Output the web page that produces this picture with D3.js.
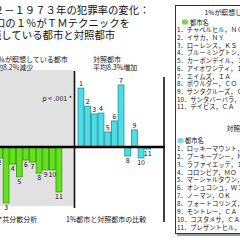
<!DOCTYPE html>
<html><head><meta charset="utf-8">
<script src="https://cdn.jsdelivr.net/npm/d3@7/dist/d3.min.js"></script>
<style>
body{margin:0;background:#fff;overflow:hidden}
svg{display:block}
text{font-family:"Noto Sans CJK JP","Noto Sans CJK SC",sans-serif;fill:#111}
</style>
</head><body>
<svg id="c" width="240" height="240"></svg>
<script>
// ---- data ----
const cityIds = [1,2,3,4,5,6,7,8,9,10,11];
// crime-rate change 1972-1973 (%), cities where 1% practise TM
const tmCityChange = [-1.0,-3.8,-19.3,-5.9,-10.3,-4.5,-5.2,-9.0,-7.9,-7.9,-15.5];
// control cities
const controlCityChange = [20.3,14.1,11.4,11.7,5.2,9.0,21.4,-3.1,5.9,-3.8,-0.7];
const titleLines = ["１９７２－１９７３年の犯罪率の変化：","人口の１％がＴＭテクニックを","実践している都市と対照都市"];
const tmSubtitle = ["１％が瞑想している都市","平均8.2%減少"];
const ctlSubtitle = ["対照都市","平均8.3%増加"];
const pNote = "ρ < .001 *";
const footNotes = ["*共分散分析","1%都市と対照都市の比較"];
const tmLegendTitle = "1%が瞑想している都市";
const ctlLegendTitle = "対照都市";
const legendHeader = "都市名";
const tmCityNames = ["チャペルヒル，ＮＣ","イサカ，ＮＹ","ローレンス，ＫＳ","ブルーミングトン，ＩＮ","カーボンデイル，ＩＬ","アイオワシティ，ＩＡ","エイムズ，ＩＡ","ボウルダー，ＣＯ","サンタクルーズ，ＣＡ","サンタバーバラ，ＣＡ","デイビス，ＣＡ"];
const controlCityNames = ["ロッキーマウント，ＮＣ","プーキープシー，ＮＹ","ラファイエッテ，ＩＮ","コロンビア，ＭＯ","マーシャルタウン，ＩＡ","オシュコシュ，ＷＩ","ノーマン，ＯＫ","フォートコリンズ，ＣＯ","モントレー，ＣＡ","コスタメサ，ＣＡ","プレザントヒル，ＣＡ"];

const GREEN="#62e41c", GREEN_S="#3b9412", CYAN="#4ddde6", CYAN_S="#23909c";

const svg = d3.select("#c");

// title
svg.append("g").selectAll("text").data(titleLines).join("text")
  .attr("x",(d,i)=>[-37.5,-15.5,-19.5][i]).attr("y",(d,i)=>14+i*12.5)
  .attr("font-size",10.4).text(d=>d);

// left panel background
svg.append("rect").attr("x",-2).attr("y",70).attr("width",76).attr("height",136).attr("fill","#e1e1e1");

const y = d3.scaleLinear().domain([-20,20]).range([205,89]);
const xTM = d3.scaleBand().domain(cityIds).range([-10,61.8]).paddingInner(0.12).paddingOuter(0);
const xCtl = d3.scaleBand().domain(cityIds).range([78,150.7]).paddingInner(0.12).paddingOuter(0);

// subtitles
svg.append("g").selectAll("text").data(tmSubtitle).join("text")
  .attr("x",(d,i)=>[-9,-11][i]).attr("y",(d,i)=>61.5+i*8.7).attr("font-size",7).text(d=>d);
svg.append("g").selectAll("text").data(ctlSubtitle).join("text")
  .attr("x",93).attr("y",(d,i)=>61.5+i*8.7).attr("font-size",7).text(d=>d);
svg.append("text").attr("x",72).attr("y",100.5).attr("text-anchor","end").attr("font-size",7).text(pNote);

function bars(data, x, fill, stroke){
  const g = svg.append("g");
  g.selectAll("rect").data(data).join("rect")
    .attr("x",(d,i)=>x(cityIds[i])).attr("width",x.bandwidth())
    .attr("y",d=>y(Math.max(0,d))).attr("height",d=>Math.abs(y(d)-y(0)))
    .attr("fill",fill).attr("stroke",stroke).attr("stroke-width",0.8);
  g.selectAll("text").data(data).join("text")
    .attr("x",(d,i)=>x(cityIds[i])+x.bandwidth()/2)
    .attr("y",d=>d>=0? y(d)-2 : y(d)+7)
    .attr("text-anchor","middle").attr("font-size",7).text((d,i)=>cityIds[i]);
}
bars(tmCityChange, xTM, GREEN, GREEN_S);
bars(controlCityChange, xCtl, CYAN, CYAN_S);

// axis + separators
svg.append("line").attr("x1",-2).attr("x2",165).attr("y1",y(0)).attr("y2",y(0)).attr("stroke","#000").attr("stroke-width",2.5);
svg.append("line").attr("x1",74.5).attr("x2",74.5).attr("y1",71).attr("y2",208).attr("stroke","#111").attr("stroke-width",1.6);
svg.append("line").attr("x1",164).attr("x2",164).attr("y1",77).attr("y2",222).attr("stroke","#111").attr("stroke-width",1.6);

// footnotes
svg.append("g").selectAll("text").data(footNotes).join("text")
  .attr("x",(d,i)=>[-1,66][i]).attr("y",222).attr("font-size",7).text(d=>d);

// legend box
svg.append("rect").attr("x",177).attr("y",7).attr("width",80).attr("height",229).attr("fill","#9a9a9a");
svg.append("rect").attr("x",175.5).attr("y",5.5).attr("width",80).attr("height",228).attr("fill","#fff").attr("stroke","#333").attr("stroke-width",1);

const LF = 6.3;
svg.append("text").attr("x",240).attr("y",14.5).attr("text-anchor","middle").attr("font-size",6.8).text(tmLegendTitle);
svg.append("rect").attr("x",182).attr("y",19.5).attr("width",6).attr("height",5).attr("rx",1.5).attr("fill","#79d84e");
svg.append("text").attr("x",190).attr("y",24.5).attr("font-size",LF).text(legendHeader);
svg.append("g").selectAll("text").data(tmCityNames).join("text")
  .attr("x",177).attr("y",(d,i)=>32.3+i*7.7).attr("font-size",LF).attr("fill","#222").text((d,i)=>cityIds[i]+"．"+d);

svg.append("text").attr("x",240).attr("y",130.5).attr("text-anchor","middle").attr("font-size",6.8).text(ctlLegendTitle);
svg.append("rect").attr("x",177.5).attr("y",138).attr("width",6).attr("height",5).attr("rx",1.5).attr("fill","#7fd6e4");
svg.append("text").attr("x",185).attr("y",143).attr("font-size",LF).text(legendHeader);
svg.append("g").selectAll("text").data(controlCityNames).join("text")
  .attr("x",177).attr("y",(d,i)=>150.8+i*7.9).attr("font-size",LF).attr("fill","#222").text((d,i)=>cityIds[i]+"．"+d);
</script>
</body></html>
